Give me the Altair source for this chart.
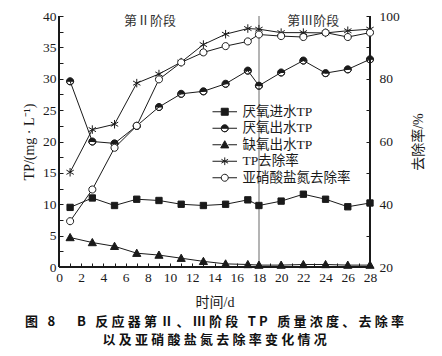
import altair as alt
import pandas as pd

# ---- data ----
days = [1, 3, 5, 7, 9, 11, 13, 15, 17, 18, 20, 22, 24, 26, 28]
anaerobic_in_tp = [9.5, 11.0, 9.8, 10.8, 10.6, 10.0, 9.8, 10.0, 10.7, 9.8, 10.5, 11.6, 10.8, 9.6, 10.2]
anaerobic_out_tp = [29.6, 20.0, 19.7, 22.5, 25.5, 27.6, 28.0, 29.2, 31.3, 28.9, 31.0, 32.9, 30.9, 31.5, 33.1]
anoxic_out_tp = [4.7, 3.9, 3.3, 2.2, 1.9, 1.4, 0.9, 0.5, 0.4, 0.3, 0.3, 0.4, 0.4, 0.3, 0.3]
tp_removal = [50.2, 63.8, 65.5, 78.6, 81.5, 85.3, 90.9, 94.2, 96.0, 95.8, 94.7, 94.7, 94.6, 95.3, 95.8]
nitrite_removal = [34.6, 44.7, 58.0, 65.0, 79.8, 85.2, 88.4, 90.4, 91.9, 94.1, 93.6, 93.3, 94.7, 93.3, 94.7]

series_names = ["厌氧进水TP", "厌氧出水TP", "缺氧出水TP", "TP去除率", "亚硝酸盐氮去除率"]
left_series = series_names[:3]
right_series = series_names[3:]

stage_labels = ["第Ⅱ阶段", "第Ⅲ阶段"]
stage_label_days = [8.2, 22.9]
stage_label_level = [39.2, 39.2]
stage_boundary = 18

x_ticks = list(range(0, 29))
left_ticks = [i * 2.5 for i in range(17)]
right_ticks = list(range(20, 101, 10))

caption1 = "图 8   B 反应器第Ⅱ、Ⅲ阶段 TP 质量浓度、去除率"
caption2 = "以及亚硝酸盐氮去除率变化情况"

# ---- tables ----
rows = []
for name, vals in zip(series_names, [anaerobic_in_tp, anaerobic_out_tp, anoxic_out_tp,
                                     tp_removal, nitrite_removal]):
    for d, v in zip(days, vals):
        rows.append({"day": d, "series": name, "value": v})
df = pd.DataFrame(rows)
ann = pd.DataFrame({"day": stage_label_days, "value": stage_label_level, "label": stage_labels})

SERIF = "Liberation Serif, Noto Sans CJK SC"
INK = "#1a1a1a"

# ---- symbol paths ----
SQUARE = "M-1,-1L1,-1L1,1L-1,1Z"
HALF = "M-1,0A1,1,0,0,1,1,0ZM-1,0A1,1,0,0,0,1,0A1,1,0,0,1,-1,0Z"
TRI = "M0,-1.15L1.15,0.9L-1.15,0.9Z"
AST = "M0,-1.1L0,1.1M-0.95,-0.55L0.95,0.55M-0.95,0.55L0.95,-0.55"
CIRC = "M-1,0A1,1,0,1,1,1,0A1,1,0,1,1,-1,0Z"
SEG = "M-3.5,0L-1,0M1,0L3.5,0"
legend_shapes = [SEG + SQUARE, SEG + HALF, SEG + TRI, "M-3.5,0L3.5,0" + AST, SEG + CIRC]
legend_fills = [INK, INK, INK, INK, "white"]
legend_strokes = [INK] * 5

x_scale = alt.Scale(domain=[0, 28], nice=False, zero=False)
yl_scale = alt.Scale(domain=[0, 40], nice=False)
yr_scale = alt.Scale(domain=[20, 100], nice=False, zero=False)

x_axis = alt.Axis(values=x_ticks, labelExpr="datum.value % 2 == 0 ? datum.label : ''",
                  offset=-4, tickSize=4, domain=False, grid=False, labelPadding=3,
                  labelOverlap=False, labelFlush=False, title="时间/d", titlePadding=12)
yl_axis = alt.Axis(values=left_ticks, labelExpr="datum.value % 5 == 0 ? datum.label : ''",
                   offset=-4, tickSize=4, domain=False, grid=False, labelPadding=3,
                   labelOverlap=False, labelFlush=False, title="TP/(mg · L⁻¹)", titlePadding=6)
yr_axis = alt.Axis(values=right_ticks, labelExpr="datum.value % 20 == 0 ? datum.label : ''",
                   orient="right", offset=-4, tickSize=4, domain=False, grid=False,
                   labelPadding=9, labelOverlap=False, labelFlush=False,
                   title="去除率/%", titleAngle=270, titleBaseline="top", titlePadding=12)

base = alt.Chart(df)
X = alt.X("day:Q", scale=x_scale, axis=x_axis)

left_data = base.transform_filter(alt.FieldOneOfPredicate(field="series", oneOf=left_series))
right_data = base.transform_filter(alt.FieldOneOfPredicate(field="series", oneOf=right_series))
YL = alt.Y("value:Q", scale=yl_scale, axis=yl_axis)
YR = alt.Y("value:Q", scale=yr_scale, axis=yr_axis)

left_lines = left_data.mark_line(color=INK, strokeWidth=1).encode(x=X, y=YL, detail="series:N")
right_lines = right_data.mark_line(color=INK, strokeWidth=1).encode(x=X, y=YR, detail="series:N")


def pts(name, shape, fill, y, size=45, filled=True):
    mk = dict(shape=shape, size=size, stroke=INK, strokeWidth=1, opacity=1)
    if filled:
        mk.update(filled=True, fill=fill)
    else:
        mk.update(filled=False)
    return base.transform_filter(alt.datum.series == name).mark_point(**mk).encode(x=X, y=y)


p1 = pts(series_names[0], SQUARE, INK, YL, size=40)
p2 = pts(series_names[1], HALF, INK, YL, size=50)
p3 = pts(series_names[2], TRI, INK, YL, size=50)
p4 = pts(series_names[3], AST, INK, YR, size=60, filled=False)
p5 = pts(series_names[4], CIRC, "white", YR, size=50)

leg = alt.Legend(orient="none", legendX=159, legendY=89, title=None, symbolSize=49,
                 labelFont=SERIF, labelFontSize=13.5, labelColor=INK, labelOffset=11,
                 rowPadding=1.5, padding=0, symbolStrokeWidth=1, symbolOpacity=1)
legend_layer = base.transform_filter("datum.day < 0").mark_point(
    filled=False, size=49, strokeWidth=1, opacity=1).encode(
    x=X, y=YL,
    shape=alt.Shape("series:N", scale=alt.Scale(domain=series_names, range=legend_shapes), legend=leg),
    fill=alt.Fill("series:N", scale=alt.Scale(domain=series_names, range=legend_fills), legend=leg),
    stroke=alt.Stroke("series:N", scale=alt.Scale(domain=series_names, range=legend_strokes), legend=leg),
)

frame_left = base.mark_rule(color=INK, strokeWidth=1).encode(x=alt.XDatum(0, type="quantitative", scale=x_scale, axis=x_axis))
frame_right = base.mark_rule(color=INK, strokeWidth=1).encode(x=alt.XDatum(28, type="quantitative", scale=x_scale, axis=x_axis))
frame_bottom = base.mark_rule(color=INK, strokeWidth=1).encode(y=alt.YDatum(0, type="quantitative", scale=yl_scale, axis=yl_axis))
stage_rule = base.mark_rule(color="#b4b4b4", strokeWidth=1.5).encode(
    x=alt.XDatum(stage_boundary, type="quantitative", scale=x_scale, axis=x_axis))

stage_text = alt.Chart(ann).mark_text(font="Noto Sans CJK SC", fontSize=13, color="#333").encode(
    x=X, y=YL, text="label:N",
)

left_layer = alt.layer(stage_rule, frame_left, frame_right, frame_bottom, left_lines,
                       p1, p2, p3, stage_text, legend_layer)
right_layer = alt.layer(right_lines, p4, p5)

sp = "\u2005"
chart = alt.layer(left_layer, right_layer).resolve_scale(y="independent").properties(
    width=311, height=251,
    autosize=alt.AutoSizeParams(type="none"),
    padding={"left": 51, "top": 8, "right": 64, "bottom": 81},
    title=alt.TitleParams(text=[sp.join(caption1), sp.join(caption2)], orient="bottom",
                          anchor="middle", font="Noto Sans CJK SC", fontSize=13,
                          fontWeight="bold", lineHeight=18, offset=6, color="#111"),
).configure_view(stroke=None).configure_axis(
    labelFont="Liberation Serif", labelFontSize=13.5, labelColor=INK, tickColor=INK,
    titleFont=SERIF, titleFontSize=14, titleFontWeight="normal", titleColor=INK,
)

chart.save("out.html", embed_options={"renderer": "svg", "actions": False})
